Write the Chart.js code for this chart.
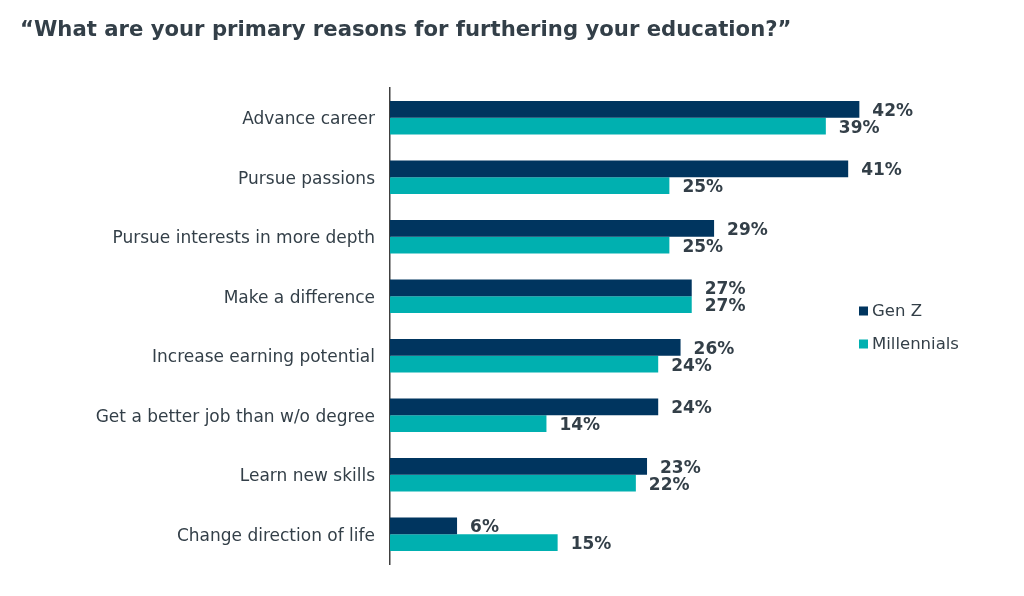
<!DOCTYPE html>
<html>
<head>
<meta charset="utf-8">
<script src="https://cdn.jsdelivr.net/npm/chart.js@4.4.1/dist/chart.umd.min.js"></script>
<style>
  body { margin: 0; background: #fff; }
  #wrap { width: 1024px; height: 596px; position: relative; }
</style>
</head>
<body>
<div id="wrap"><canvas id="reasonsChart"></canvas></div>
<script>
const chartTitle = '\u201CWhat are your primary reasons for furthering your education?\u201D';
const reasons = [
    'Advance career',
    'Pursue passions',
    'Pursue interests in more depth',
    'Make a difference',
    'Increase earning potential',
    'Get a better job than w/o degree',
    'Learn new skills',
    'Change direction of life'
];
const genZ = [42, 41, 29, 27, 26, 24, 23, 6];
const millennials = [39, 25, 25, 27, 24, 14, 22, 15];

const textColor = '#333f48';
const navy = '#00355f';
const teal = '#00b0b0';

// value labels at the end of each bar, plus title and legend
const extras = {
    id: 'extras',
    afterDatasetsDraw(chart) {
        const ctx = chart.ctx;
        ctx.save();
        ctx.fillStyle = textColor;
        ctx.font = 'bold 17px "DejaVu Sans"';
        ctx.textBaseline = 'middle';
        ctx.textAlign = 'left';
        chart.data.datasets.forEach((ds, i) => {
            chart.getDatasetMeta(i).data.forEach((bar, j) => {
                ctx.fillText(ds.data[j] + '%', bar.x + 13, bar.y + 2);
            });
        });

        // title
        ctx.font = 'bold 21.2px "DejaVu Sans"';
        ctx.fillText(chartTitle, 20, 30);

        // legend
        ctx.font = '16.5px "DejaVu Sans"';
        const items = [['Gen Z', navy, 311], ['Millennials', teal, 344]];
        items.forEach(it => {
            ctx.fillStyle = it[1];
            ctx.fillRect(859, it[2] - 4.5, 9, 9);
            ctx.fillStyle = textColor;
            ctx.fillText(it[0], 872, it[2] + 1);
        });
        ctx.restore();
    }
};

new Chart(document.getElementById('reasonsChart'), {
    type: 'bar',
    data: {
        labels: reasons,
        datasets: [
            { label: 'Gen Z', data: genZ, backgroundColor: navy },
            { label: 'Millennials', data: millennials, backgroundColor: teal }
        ]
    },
    options: {
        indexAxis: 'y',
        responsive: true,
        maintainAspectRatio: false,
        animation: false,
        categoryPercentage: 0.56,
        barPercentage: 1,
        layout: { padding: { top: 88, bottom: 32, left: 0, right: 73 } },
        plugins: {
            legend: { display: false },
            title: { display: false },
            tooltip: { enabled: false }
        },
        scales: {
            x: {
                min: 0,
                max: 50.2,
                display: false
            },
            y: {
                afterFit: s => { s.width = 390; },
                grid: { display: false, drawTicks: false },
                border: { display: true, color: '#404040', width: 1.5 },
                ticks: {
                    padding: 15,
                    labelOffset: 2,
                    color: textColor,
                    font: { family: 'DejaVu Sans', size: 17 }
                }
            }
        }
    },
    plugins: [extras]
});
</script>
</body>
</html>
